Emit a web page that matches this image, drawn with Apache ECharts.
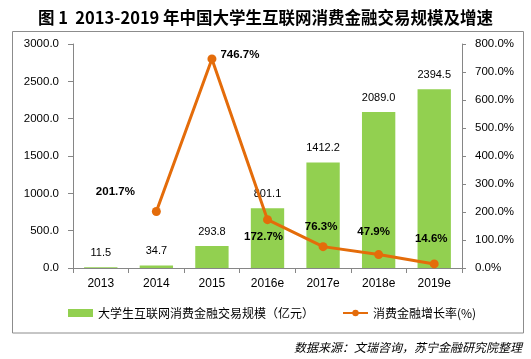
<!DOCTYPE html>
<html><head><meta charset="utf-8">
<script src="https://cdn.jsdelivr.net/npm/echarts@6/dist/echarts.min.js"></script>
<style>html,body{margin:0;padding:0;background:#fff}#c{width:531px;height:359px}</style>
</head><body><div id="c"></div>
<script>
const categories = ['2013','2014','2015','2016e','2017e','2018e','2019e'];
const scaleValues = [11.5, 34.7, 293.8, 801.1, 1412.2, 2089.0, 2394.5];
const growthValues = [null, 201.7, 746.7, 172.7, 76.3, 47.9, 14.6];
const leftTicks = [0, 500, 1000, 1500, 2000, 2500, 3000];
const rightTicks = [0, 100, 200, 300, 400, 500, 600, 700, 800];
const seriesNames = ['大学生互联网消费金融交易规模（亿元）', '消费金融增长率(%)'];
const titleText = '图 1  2013-2019 年中国大学生互联网消费金融交易规模及增速';
const sourceText = '数据来源：文瑞咨询，苏宁金融研究院整理';

// label placement (style only)
const growthLabelOffsets = [[0,0],[-41,-20],[28,-4],[-4,17],[-2,-20],[-5,-23],[-3,-25]];

const FONT = '"Liberation Sans", "Noto Sans CJK SC", sans-serif';
const CJK = '"Noto Sans CJK SC", sans-serif';
const AXIS = '#868686';
const GREEN = '#92D050';
const ORANGE = '#E46C0A';

const chart = echarts.init(document.getElementById('c'), null, {renderer: 'canvas'});
chart.setOption({
  animation: false,
  backgroundColor: '#fff',
  title: {
    text: titleText, left: 'center', top: 4,
    textStyle: {fontFamily: CJK, fontSize: 16.5, fontWeight: 'bold', color: '#000'}
  },
  graphic: [
    {type: 'rect', shape: {x: 12.5, y: 31.5, width: 511, height: 301.5},
     style: {fill: null, stroke: '#8c8c8c', lineWidth: 1}, silent: true},
    {type: 'text', right: 9, top: 341,
     style: {text: sourceText, font: 'italic 12px "Noto Sans CJK SC", sans-serif', fill: '#000'}}
  ],
  legend: {
    left: 63, top: 302, itemWidth: 25, itemHeight: 8, itemGap: 28,
    textStyle: {fontFamily: CJK, fontSize: 12, color: '#000'},
    data: [
      {name: seriesNames[0], icon: 'rect'},
      {name: seriesNames[1]}
    ]
  },
  grid: {left: 73, right: 69, top: 44, bottom: 91},
  xAxis: {
    type: 'category', data: categories,
    axisLine: {lineStyle: {color: AXIS}},
    axisTick: {show: true, length: 5, lineStyle: {color: AXIS}},
    axisLabel: {fontFamily: FONT, fontSize: 12, color: '#000', margin: 10}
  },
  yAxis: [
    {
      type: 'value', min: leftTicks[0], max: leftTicks[leftTicks.length-1], interval: 500,
      axisLine: {show: true, lineStyle: {color: AXIS}},
      axisTick: {show: true, length: 5, lineStyle: {color: AXIS}},
      splitLine: {show: false},
      axisLabel: {fontFamily: FONT, fontSize: 11.5, color: '#000', margin: 14,
        formatter: v => v.toFixed(1)}
    },
    {
      type: 'value', min: rightTicks[0], max: rightTicks[rightTicks.length-1], interval: 100,
      position: 'right',
      axisLine: {show: true, lineStyle: {color: AXIS}},
      axisTick: {show: true, length: 4, lineStyle: {color: AXIS}},
      splitLine: {show: false},
      axisLabel: {fontFamily: FONT, fontSize: 11.5, color: '#000', margin: 13,
        formatter: v => v.toFixed(1) + '%'}
    }
  ],
  series: [
    {
      name: seriesNames[0], type: 'bar', yAxisIndex: 0, barWidth: '60%',
      data: scaleValues,
      itemStyle: {color: GREEN},
      label: {show: true, position: 'top', distance: 9, fontFamily: FONT, fontSize: 11, color: '#000',
        formatter: p => p.value.toFixed(1)}
    },
    {
      name: seriesNames[1], type: 'line', yAxisIndex: 1,
      data: growthValues.map((v, i) => ({
        value: v,
        label: {offset: growthLabelOffsets[i]}
      })),
      connectNulls: false,
      symbol: 'circle', symbolSize: 9,
      lineStyle: {color: ORANGE, width: 3},
      itemStyle: {color: ORANGE},
      label: {show: true, position: 'inside', fontFamily: FONT, fontSize: 11.5, fontWeight: 'bold', color: '#000',
        formatter: p => p.value == null ? '' : p.value.toFixed(1) + '%'}
    }
  ]
});
</script></body></html>
